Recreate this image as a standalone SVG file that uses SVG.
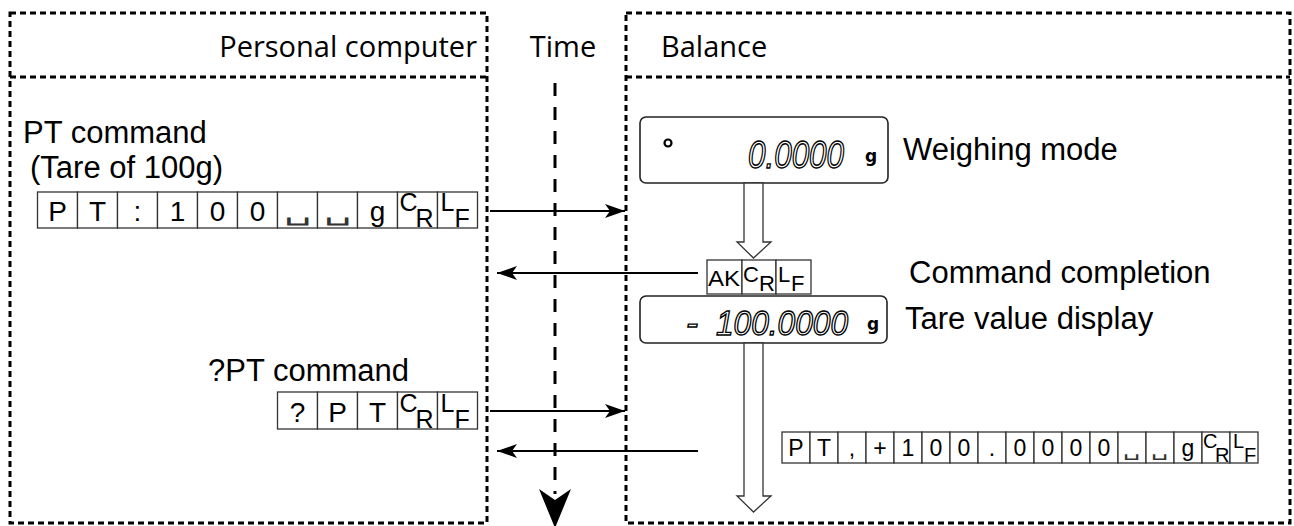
<svg xmlns="http://www.w3.org/2000/svg" width="1294" height="526" viewBox="0 0 1294 526">
<style>
.frame{fill:none;stroke:#000;stroke-width:3;stroke-dasharray:6 4}
.hdr{font-family:"Open Sans","Noto Sans",sans-serif;font-size:29px;fill:#000}
.lbl{font-family:"Liberation Sans",Arial,sans-serif;font-size:31px;fill:#000}
.cell{fill:#fff;stroke:#333;stroke-width:1.3}
.ct{font-family:"Liberation Sans",Arial,sans-serif;font-size:28px;text-anchor:middle;fill:#000}
.cs{font-family:"Liberation Sans",Arial,sans-serif;fill:#000}
.sp{font-family:"DejaVu Sans",sans-serif;font-weight:200;text-anchor:middle;fill:#333}
.conn{stroke:#000;stroke-width:2;fill:none}
.hol{fill:#fff;stroke:#333;stroke-width:1.3}
.disp{fill:#fff;stroke:#222;stroke-width:1.6}
.seg{font-family:"Liberation Sans",Arial,sans-serif;font-style:italic;fill:#fff;stroke:#000;stroke-width:1.4}
.unit{font-family:"DejaVu Sans",sans-serif;font-weight:bold;font-size:17px;fill:#000}
</style>
<defs>
<marker id="ah" markerWidth="20" markerHeight="14" refX="20" refY="7" orient="auto" markerUnits="userSpaceOnUse">
<path d="M0,0 L20,7 L0,14 L5,7 Z" fill="#000"/>
</marker>
</defs>

<g id="pc-lane">
<rect class="frame" x="10" y="13" width="477" height="510"/>
<line class="frame" x1="10" y1="77" x2="487" y2="77"/>
<text class="hdr" x="477" y="57" text-anchor="end">Personal computer</text>
</g>

<g id="time-label">
<text class="hdr" x="563" y="57" text-anchor="middle">Time</text>
</g>

<g id="balance-lane">
<rect class="frame" x="626" y="13" width="664" height="510"/>
<line class="frame" x1="626" y1="77" x2="1290" y2="77"/>
<text class="hdr" x="661" y="57">Balance</text>
</g>

<g id="pt-command">
<text class="lbl" x="23" y="143">PT command</text>
<text class="lbl" x="30" y="178">(Tare of 100g)</text>
<g transform="translate(37.5,192)">
<rect class="cell" x="0" y="0" width="40" height="36"/>
<rect class="cell" x="40" y="0" width="40" height="36"/>
<rect class="cell" x="80" y="0" width="40" height="36"/>
<rect class="cell" x="120" y="0" width="40" height="36"/>
<rect class="cell" x="160" y="0" width="40" height="36"/>
<rect class="cell" x="200" y="0" width="40" height="36"/>
<rect class="cell" x="240" y="0" width="40" height="36"/>
<rect class="cell" x="280" y="0" width="40" height="36"/>
<rect class="cell" x="320" y="0" width="40" height="36"/>
<rect class="cell" x="360" y="0" width="40" height="36"/>
<rect class="cell" x="400" y="0" width="40" height="36"/>
<text class="ct" x="20" y="29">P</text>
<text class="ct" x="60" y="29">T</text>
<text class="ct" x="100" y="29">:</text>
<text class="ct" x="140" y="29">1</text>
<text class="ct" x="180" y="29">0</text>
<text class="ct" x="220" y="29">0</text>
<text class="sp" font-size="24" transform="translate(260,28) scale(1.8,1)">␣</text>
<text class="sp" font-size="24" transform="translate(300,28) scale(1.8,1)">␣</text>
<text class="ct" x="340" y="29">g</text>
<text class="cs" font-size="25" x="362" y="19">C</text>
<text class="cs" font-size="25" x="378" y="35">R</text>
<text class="cs" font-size="25" x="403" y="19">L</text>
<text class="cs" font-size="25" x="417" y="35">F</text>
</g>
</g>

<g id="weighing-display">
<rect class="disp" x="640" y="117" width="248" height="66" rx="6"/>
<circle cx="668" cy="143" r="3.5" fill="none" stroke="#000" stroke-width="2.2"/>
<text class="seg" font-size="38" x="748" y="168" textLength="96" lengthAdjust="spacingAndGlyphs">0.0000</text>
<text class="unit" x="865" y="162">g</text>
<text class="lbl" x="903" y="160">Weighing mode</text>
</g>

<g id="ack">
<rect class="cell" x="707" y="260" width="35" height="34"/>
<rect class="cell" x="742" y="260" width="34" height="34"/>
<rect class="cell" x="776" y="260" width="35" height="34"/>
<text class="cs" font-size="22" x="708" y="286" textLength="32" lengthAdjust="spacingAndGlyphs">AK</text>
<text class="cs" font-size="22" x="743" y="282">C</text>
<text class="cs" font-size="22" x="759" y="291">R</text>
<text class="cs" font-size="22" x="778" y="282">L</text>
<text class="cs" font-size="22" x="791" y="291">F</text>
<text class="lbl" x="909" y="283">Command completion</text>
</g>

<g id="tare-display">
<rect class="disp" x="640" y="296" width="247" height="47" rx="6"/>
<text class="seg" font-size="36" x="686" y="335">-</text>
<text class="seg" font-size="35" x="716" y="335" textLength="132" lengthAdjust="spacingAndGlyphs">100.0000</text>
<text class="unit" x="867" y="330">g</text>
<text class="lbl" x="905" y="329">Tare value display</text>
</g>

<g id="qpt-command">
<text class="lbl" x="208" y="381">?PT command</text>
<g transform="translate(277.5,392)">
<rect class="cell" x="0" y="0" width="40" height="37"/>
<rect class="cell" x="40" y="0" width="40" height="37"/>
<rect class="cell" x="80" y="0" width="40" height="37"/>
<rect class="cell" x="120" y="0" width="40" height="37"/>
<rect class="cell" x="160" y="0" width="40" height="37"/>
<text class="ct" x="20" y="30">?</text>
<text class="ct" x="60" y="30">P</text>
<text class="ct" x="100" y="30">T</text>
<text class="cs" font-size="25" x="122" y="20">C</text>
<text class="cs" font-size="25" x="138" y="36">R</text>
<text class="cs" font-size="25" x="163" y="20">L</text>
<text class="cs" font-size="25" x="177" y="36">F</text>
</g>
</g>

<g id="pt-response">
<g transform="translate(782,432)">
<rect class="cell" x="0" y="0" width="28" height="31"/>
<rect class="cell" x="28" y="0" width="28" height="31"/>
<rect class="cell" x="56" y="0" width="28" height="31"/>
<rect class="cell" x="84" y="0" width="28" height="31"/>
<rect class="cell" x="112" y="0" width="28" height="31"/>
<rect class="cell" x="140" y="0" width="28" height="31"/>
<rect class="cell" x="168" y="0" width="28" height="31"/>
<rect class="cell" x="196" y="0" width="28" height="31"/>
<rect class="cell" x="224" y="0" width="28" height="31"/>
<rect class="cell" x="252" y="0" width="28" height="31"/>
<rect class="cell" x="280" y="0" width="28" height="31"/>
<rect class="cell" x="308" y="0" width="28" height="31"/>
<rect class="cell" x="336" y="0" width="28" height="31"/>
<rect class="cell" x="364" y="0" width="28" height="31"/>
<rect class="cell" x="392" y="0" width="28" height="31"/>
<rect class="cell" x="420" y="0" width="28" height="31"/>
<rect class="cell" x="448" y="0" width="28" height="31"/>
<g class="ct" style="font-size:23px">
<text x="14" y="24">P</text>
<text x="42" y="24">T</text>
<text x="70" y="24">,</text>
<text x="98" y="24">+</text>
<text x="126" y="24">1</text>
<text x="154" y="24">0</text>
<text x="182" y="24">0</text>
<text x="210" y="24">.</text>
<text x="238" y="24">0</text>
<text x="266" y="24">0</text>
<text x="294" y="24">0</text>
<text x="322" y="24">0</text>
<text x="406" y="24">g</text>
</g>
<text class="sp" font-size="18" transform="translate(350,24) scale(1.5,1)">␣</text>
<text class="sp" font-size="18" transform="translate(378,24) scale(1.5,1)">␣</text>
<text class="cs" font-size="20" x="421" y="16">C</text>
<text class="cs" font-size="20" x="433" y="30">R</text>
<text class="cs" font-size="20" x="451" y="16">L</text>
<text class="cs" font-size="20" x="462" y="30">F</text>
</g>
</g>

<g id="connectors">
<line x1="555" y1="83" x2="555" y2="494" stroke="#000" stroke-width="3" stroke-dasharray="13 11"/>
<polygon points="539,489 555,528 571,489 555,500" fill="#000"/>
<line class="conn" x1="490" y1="211" x2="625" y2="211" marker-end="url(#ah)"/>
<line class="conn" x1="698" y1="273" x2="497" y2="273" marker-end="url(#ah)"/>
<line class="conn" x1="490" y1="411" x2="625" y2="411" marker-end="url(#ah)"/>
<line class="conn" x1="698" y1="451" x2="497" y2="451" marker-end="url(#ah)"/>
<polygon class="hol" points="744,183 744,242 737,242 753.5,258 771,242 763,242 763,183"/>
<polygon class="hol" points="744,343 744,496 737,496 753.5,512 771,496 763,496 763,343"/>
</g>
</svg>
